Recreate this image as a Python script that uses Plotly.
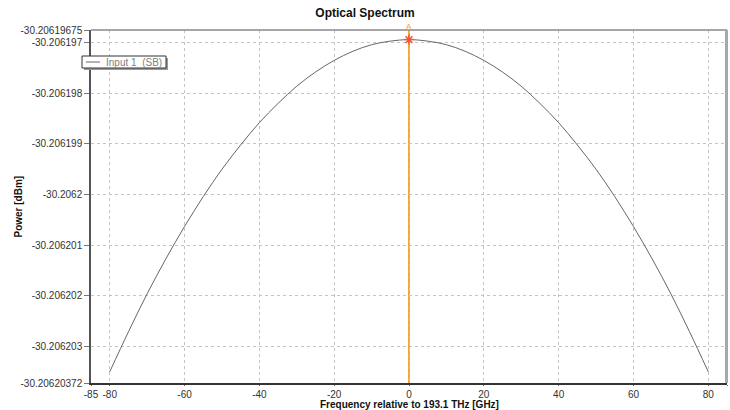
import plotly.graph_objects as go

# ---- data ----
freq_ghz = [-80, -75, -70, -65, -60, -55, -50, -45, -40, -35, -30, -25, -20, -15, -10, -5,
            0, 5, 10, 15, 20, 25, 30, 35, 40, 45, 50, 55, 60, 65, 70, 75, 80]
power_dbm = [-30.20620350, -30.20620271, -30.20620196, -30.20620127, -30.20620063,
             -30.20620004, -30.20619950, -30.20619902, -30.20619858, -30.20619820,
             -30.20619786, -30.20619758, -30.20619735, -30.20619717, -30.20619704,
             -30.20619697, -30.20619694, -30.20619697, -30.20619704, -30.20619717,
             -30.20619735, -30.20619758, -30.20619786, -30.20619820, -30.20619858,
             -30.20619902, -30.20619950, -30.20620004, -30.20620063, -30.20620127,
             -30.20620196, -30.20620271, -30.20620350]
x_ticks = [-85, -80, -60, -40, -20, 0, 20, 40, 60, 80, 85]
y_tickvals = [-30.20619675, -30.206197, -30.206198, -30.206199, -30.2062,
              -30.206201, -30.206202, -30.206203, -30.20620372]
y_ticktext = ["-30.20619675", "-30.206197", "-30.206198", "-30.206199", "-30.2062",
              "-30.206201", "-30.206202", "-30.206203", "-30.20620372"]
marker_x = [0]
marker_y = [-30.20619694]
series_name = "Input 1  (SB)"

W, H = 730, 410
L, R, T, B = 91, 3, 30, 27
PW, PH = W - L - R, H - T - B
ORANGE = "#f5a43a"
FONT = "Liberation Sans, Arial, sans-serif"


def px(xp):
    return (xp - L) / PW


def py(yp):
    return (H - B - yp) / PH


fig = go.Figure()
fig.add_trace(go.Scatter(x=freq_ghz, y=power_dbm, mode="lines", name=series_name,
                         line=dict(color="#666666", width=1, shape="spline"),
                         showlegend=False, hoverinfo="x+y"))
fig.add_trace(go.Scatter(x=marker_x, y=marker_y, mode="markers",
                         marker=dict(symbol="asterisk-open", size=8,
                                     line=dict(color="#f7941d", width=1.5)),
                         showlegend=False, hoverinfo="skip"))

shapes = [
    # marker vertical line
    dict(type="line", xref="x", yref="paper", x0=0, x1=0, y0=0, y1=1,
         line=dict(color=ORANGE, width=2), layer="below"),
    # top and right frame
    dict(type="line", xref="paper", yref="paper", x0=0, x1=1, y0=1, y1=1,
         line=dict(color="#8a8a8a", width=1.5)),
    dict(type="line", xref="paper", yref="paper", x0=px(726.5), x1=px(726.5), y0=0, y1=1,
         line=dict(color="#a8a8a8", width=3)),
    # legend box shadow + box
    dict(type="rect", xref="paper", yref="paper", x0=px(84), x1=px(168), y0=py(58), y1=py(70),
         fillcolor="#9a9a9a", line=dict(width=0)),
    dict(type="rect", xref="paper", yref="paper", x0=px(82), x1=px(166), y0=py(56), y1=py(68),
         fillcolor="white", line=dict(color="#333333", width=1)),
    dict(type="line", xref="paper", yref="paper", x0=px(86), x1=px(100), y0=py(62), y1=py(62),
         line=dict(color="#666666", width=1)),
]

annotations = [
    dict(text=series_name, xref="paper", yref="paper", x=px(104), y=py(62),
         xanchor="left", yanchor="middle", showarrow=False,
         font=dict(family=FONT, size=10, color="#808080")),
    dict(text="A", xref="x", yref="paper", x=0, y=py(26), xanchor="center", yanchor="middle",
         showarrow=False, font=dict(family=FONT, size=8, color=ORANGE)),
    dict(text="<b>Power [dBm]</b>", xref="paper", yref="paper", x=px(18), y=0.5,
         textangle=-90, xanchor="center", yanchor="middle", showarrow=False,
         font=dict(family=FONT, size=10, color="#111111")),
    dict(text="<b>Frequency relative to 193.1 THz [GHz]</b>", xref="paper", yref="paper",
         x=0.5, y=py(404.5), xanchor="center", yanchor="middle", showarrow=False,
         font=dict(family=FONT, size=10, color="#111111")),
]

fig.update_layout(
    width=W, height=H,
    margin=dict(l=L, r=R, t=T, b=B),
    paper_bgcolor="white", plot_bgcolor="white",
    title=dict(text="<b>Optical Spectrum</b>", x=px(409), xanchor="center",
               y=1 - 13 / H, yanchor="middle",
               font=dict(family=FONT, size=12, color="#111111")),
    font=dict(family=FONT, size=10, color="#333333"),
    shapes=shapes, annotations=annotations,
    xaxis=dict(range=[-85, 85], tickmode="array", tickvals=x_ticks,
               ticktext=[str(v) for v in x_ticks],
               showgrid=True, gridcolor="#c4c4c4", griddash="dot", gridwidth=1,
               zeroline=False, showline=True, linecolor="#333333", linewidth=1.5,
               ticks="outside", ticklen=1, tickcolor="#666666",
               tickfont=dict(family=FONT, size=10, color="#333333")),
    yaxis=dict(range=[y_tickvals[-1], y_tickvals[0]], tickmode="array",
               tickvals=y_tickvals, ticktext=y_ticktext,
               showgrid=True, gridcolor="#c4c4c4", griddash="dot", gridwidth=1,
               zeroline=False, showline=True, linecolor="#555555", linewidth=1.5,
               ticks="outside", ticklen=5, tickcolor="#777777",
               tickfont=dict(family=FONT, size=10, color="#333333")),
)

fig.write_html("out.html", config={"displayModeBar": False},
               post_script="document.body.style.margin='0';document.body.style.padding='0';")
